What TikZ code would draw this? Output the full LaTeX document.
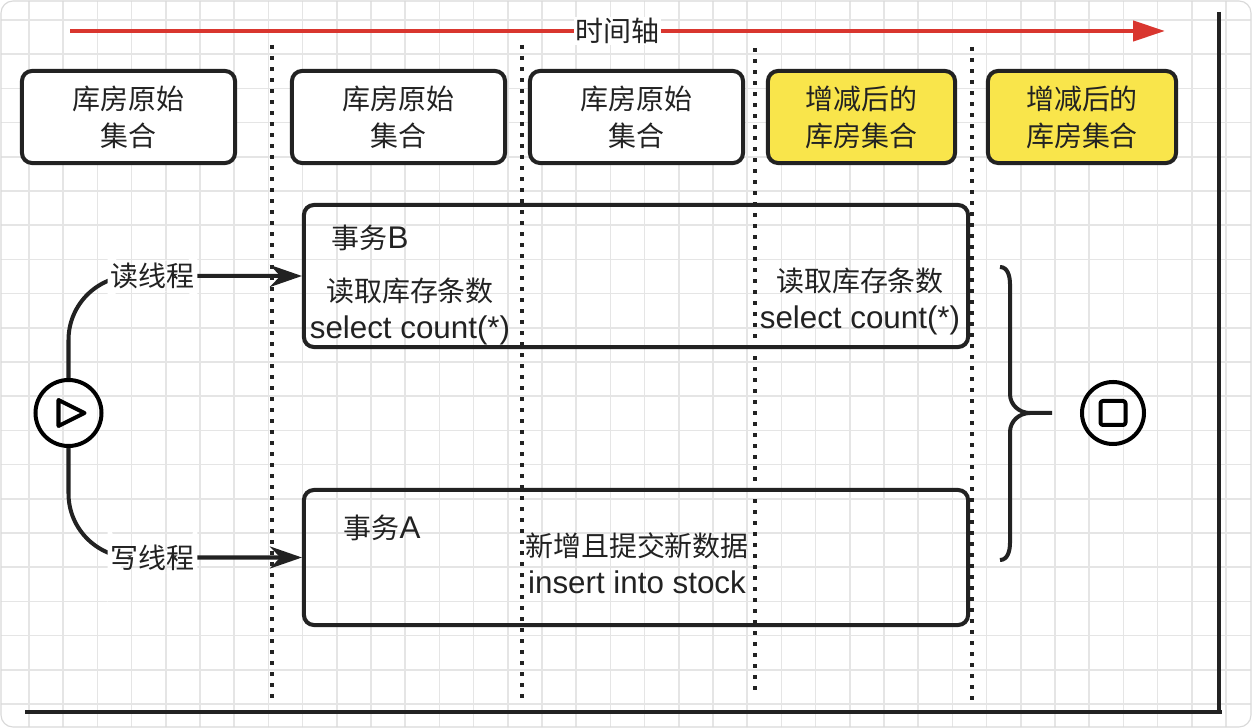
\documentclass[tikz,border=0pt]{standalone}
\usepackage{fontspec}
\setmainfont{Noto Sans CJK SC}
\newfontfamily\lat{Liberation Sans}[Scale=1.12]
\usetikzlibrary{arrows.meta}
\definecolor{ink}{HTML}{222222}
\definecolor{axisred}{HTML}{D9362F}
\definecolor{setyellow}{HTML}{F9E54B}
\tikzset{
  every node/.style={font=\fontsize{19.9pt}{26.3pt}\selectfont,text=ink},
  gridline/.style={black!10,line width=1.1pt},
  setbox/.style={draw=ink,line width=0.1cm,rounded corners=0.25cm,fill=white,
    align=center,minimum height=2.3cm,inner sep=0pt},
  txbox/.style={draw=ink,line width=0.1cm,rounded corners=0.25cm,minimum width=16.6cm,inner sep=0pt},
  txt/.style={align=center,inner sep=0pt},
  lane/.style={ink,line width=0.1cm,dash pattern=on 0.1cm off 0.175cm},
  flow/.style={ink,line width=0.1cm,rounded corners=1.6cm,-{Stealth[length=0.8cm,width=0.55cm]}},
  lbl/.style={fill=white,inner sep=2pt},
  endpt/.style={circle,draw=black,line width=0.1cm,minimum size=1.65cm,inner sep=0pt},
  sym/.style={black,line width=0.1cm,line join=round},
}
\begin{document}
\begin{tikzpicture}[x=0.025cm,y=-0.025cm]
  \useasboundingbox (0,0) rectangle (1252,728);
  % paper with grid
  \begin{scope}
    \clip[rounded corners=0.3cm] (1,1) rectangle (1251,727);
    \fill[white] (0,0) rectangle (1252,728);
    \foreach \i in {0,...,35} \draw[gridline] ({29+34.2*\i},0) -- ++(0,728);
    \foreach \j in {0,...,20} \draw[gridline] (0,{20+34.2*\j}) -- ++(1252,0);
  \end{scope}
  \draw[black!15,line width=0.8pt,rounded corners=0.3cm] (1,1) rectangle (1251,727);

  % time axis and frame lines
  \coordinate (t0) at (70,31);
  \coordinate (t1) at (1165,31);
  \draw[axisred,line width=0.11cm,-{Triangle[length=0.8cm,width=0.5cm]}] (t0) -- node[lbl,inner sep=1pt]{时间轴} (t1);
  \draw[ink,line width=0.085cm] (1219,12) -- (1219,712);
  \draw[ink,line width=0.11cm] (25,712) -- (1222,712);

  % lanes
  \foreach \x/\a/\b in {272/45/700,522/45/700,755/48/697,972/47/703}
    \draw[lane] (\x,\a) -- (\x,\b);

  % stock sets
  \node[setbox,minimum width=5.325cm] (raw1) at (128.5,117) {库房原始\\集合};
  \node[setbox,minimum width=5.325cm] (raw2) at (398.5,117) {库房原始\\集合};
  \node[setbox,minimum width=5.325cm] (raw3) at (636.5,117) {库房原始\\集合};
  \node[setbox,fill=setyellow,minimum width=4.675cm] (new1) at (861.5,117) {增减后的\\库房集合};
  \node[setbox,fill=setyellow,minimum width=4.7cm] (new2) at (1082,117) {增减后的\\库房集合};

  % transactions
  \node[txbox,minimum height=3.55cm] (txB) at (636,276) {};
  \node[txbox,minimum height=3.375cm] (txA) at (636,557.5) {};
  \node[txt] (tagB) at (370,238) {事务{\lat B}};
  \node[txt] (readB1) at (410,311) {读取库存条数\\{\lat select count(*)}};
  \node[txt] (readB2) at (860,301) {读取库存条数\\{\lat select count(*)}};
  \node[txt] (tagA) at (382,528) {事务{\lat A}};
  \node[txt] (insA) at (637,563) {新增且提交新数据\\{\lat insert into stock}};

  % start / end
  \node[endpt] (start) at (68.5,413) {};
  \draw[sym] ([shift={(-10,-13)}]start.center) -- ([shift={(16,0)}]start.center)
    -- ([shift={(-10,13)}]start.center) -- cycle;
  \node[endpt,minimum size=1.55cm] (stop) at (1113,413) {};
  \draw[sym,rounded corners=0.06cm] ([shift={(-12.5,-12)}]stop.center) rectangle ([shift={(12.5,12)}]stop.center);

  \draw[flow] (start.north) |- node[lbl,pos=0.68]{读线程} (txB.west);
  \draw[flow] (start.south) |- node[lbl,pos=0.68]{写线程} (txA.west);

  % brace
  \draw[sym,ink] (1000,267) to[out=0,in=90] (1010,284) -- (1010,394) to[out=-90,in=180] (1030,413) -- (1052,413);
  \draw[sym,ink] (1000,560) to[out=0,in=-90] (1010,543) -- (1010,432) to[out=90,in=180] (1030,413);
\end{tikzpicture}
\end{document}
